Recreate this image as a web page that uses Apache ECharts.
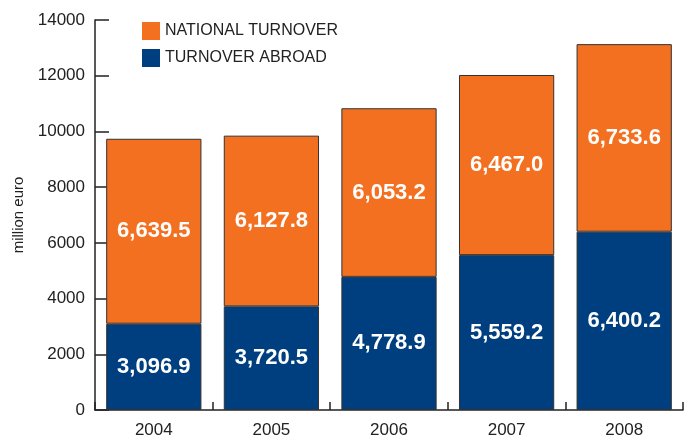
<!DOCTYPE html>
<html>
<head>
<meta charset="utf-8">
<script src="https://cdn.jsdelivr.net/npm/echarts@6/dist/echarts.min.js"></script>
<style>
  html, body { margin: 0; padding: 0; background: #fff; }
  #chart { width: 693px; height: 441px; }
</style>
</head>
<body>
<div id="chart"></div>
<script>
const years = ['2004', '2005', '2006', '2007', '2008'];
const abroad = [3096.9, 3720.5, 4778.9, 5559.2, 6400.2];
const national = [6639.5, 6127.8, 6053.2, 6467.0, 6733.6];

const font = '"Liberation Sans Narrow", "Liberation Sans", Arial, sans-serif';
const fmt = v => v.toLocaleString('en-US', {minimumFractionDigits: 1, maximumFractionDigits: 1});

const labelStyle = {
    show: true,
    position: 'inside',
    color: '#fff',
    fontFamily: font,
    fontWeight: 'bold',
    fontSize: 22,
    formatter: p => fmt(p.value)
};

const myChart = echarts.init(document.getElementById('chart'));
myChart.setOption({
    animation: false,
    grid: {left: 95, right: 10, top: 20, bottom: 31},
    legend: {
        left: 137,
        top: 17,
        orient: 'vertical',
        itemWidth: 18,
        itemHeight: 18,
        itemGap: 9,
        icon: 'rect',
        itemStyle: {borderWidth: 0},
        data: ['NATIONAL TURNOVER', 'TURNOVER ABROAD'],
        textStyle: {color: '#222', fontSize: 16, fontFamily: font}
    },
    xAxis: {
        type: 'category',
        data: years,
        axisLine: {lineStyle: {color: '#222', width: 1.5}},
        axisTick: {show: true, inside: true, length: 8, lineStyle: {color: '#222', width: 1.5}},
        axisLabel: {color: '#222', fontSize: 17, fontFamily: font, margin: 12}
    },
    yAxis: {
        type: 'value',
        min: 0,
        max: 14000,
        interval: 2000,
        name: 'million euro',
        nameLocation: 'middle',
        nameRotate: 90,
        nameGap: 66,
        nameTextStyle: {color: '#222', fontSize: 15, fontFamily: font},
        splitLine: {show: false},
        axisLine: {show: true, lineStyle: {color: '#222', width: 1.5}},
        axisTick: {show: true, inside: true, length: 14, lineStyle: {color: '#222', width: 1.5}},
        axisLabel: {color: '#222', fontSize: 17, fontFamily: font, margin: 10, formatter: v => String(v)}
    },
    series: [
        {
            name: 'TURNOVER ABROAD',
            type: 'bar',
            stack: 'total',
            barWidth: '81%',
            data: abroad,
            itemStyle: {color: '#003F7F', borderColor: '#333', borderWidth: 1},
            label: labelStyle
        },
        {
            name: 'NATIONAL TURNOVER',
            type: 'bar',
            stack: 'total',
            barWidth: '81%',
            data: national,
            itemStyle: {color: '#F37021', borderColor: '#333', borderWidth: 1},
            label: labelStyle
        }
    ]
});
</script>
</body>
</html>
